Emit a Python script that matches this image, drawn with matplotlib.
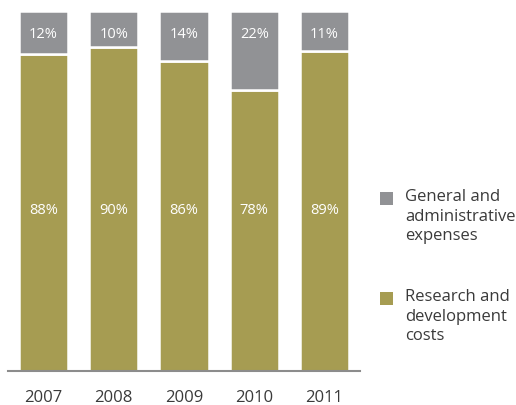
import matplotlib.pyplot as plt
from matplotlib.patches import Rectangle

years = ["2007", "2008", "2009", "2010", "2011"]
rnd_share = [88, 90, 86, 78, 89]
admin_share = [12, 10, 14, 22, 11]
series_labels = ["General and\nadministrative\nexpenses", "Research and\ndevelopment\ncosts"]

OLIVE = "#a69c52"
GREY = "#919295"
TEXT = "#3a3a3a"

plt.rcParams['font.family'] = ['Open Sans', 'DejaVu Sans']

W, H = 516, 405
fig = plt.figure(figsize=(W / 100, H / 100), dpi=100)
ax = fig.add_axes([8 / W, (H - 371) / H, 352 / W, 360 / H])

x = list(range(len(years)))
ax.bar(x, rnd_share, width=0.70, color=OLIVE, edgecolor="white", linewidth=1.8, zorder=2)
ax.bar(x, admin_share, bottom=rnd_share, width=0.70, color=GREY,
       edgecolor="white", linewidth=1.8, zorder=2)

# percentage labels sit at a fixed height inside each segment
for i in x:
    ax.text(i, 93.6, f"{admin_share[i]}%", ha="center", va="center",
            color="white", fontsize=10.5, zorder=3)
    ax.text(i, 44.7, f"{rnd_share[i]}%", ha="center", va="center",
            color="white", fontsize=10.5, zorder=3)

ax.set_xlim(-0.505, 4.505)
ax.set_ylim(0, 100)
for side in ["top", "right", "left"]:
    ax.spines[side].set_visible(False)
ax.spines["bottom"].set_color("#8c8c8c")
ax.spines["bottom"].set_linewidth(1.5)
ax.spines["bottom"].set_zorder(4)
ax.set_yticks([])
ax.set_xticks(x)
ax.set_xticklabels(years, fontsize=12, color=TEXT)
ax.tick_params(axis="x", length=0, pad=13.5)

# legend drawn by hand on the right
legend_items = [(GREY, series_labels[0], 192), (OLIVE, series_labels[1], 292)]
for color, label, top in legend_items:
    fig.add_artist(Rectangle((380 / W, (H - top - 13) / H), 13 / W, 13 / H,
                             transform=fig.transFigure, color=color, lw=0))
    fig.text(405 / W, (H - top + 3) / H, label, ha="left", va="top",
             fontsize=12, color=TEXT, linespacing=1.3)

fig.savefig("out.png", dpi=100)
